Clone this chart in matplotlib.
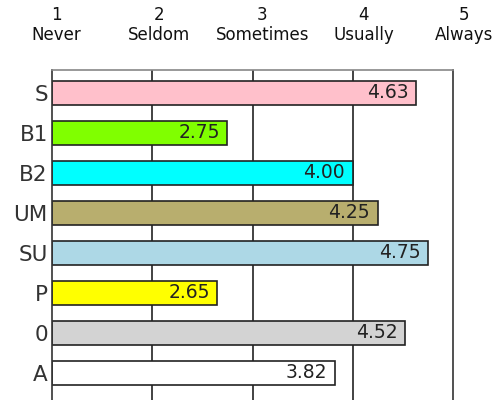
import matplotlib
matplotlib.use("Agg")
import matplotlib.pyplot as plt
from matplotlib.transforms import ScaledTranslation

categories = ["S", "B1", "B2", "UM", "SU", "P", "0", "A"]
values = [4.63, 2.75, 4.00, 4.25, 4.75, 2.65, 4.52, 3.82]
colors = ["#FFC0CB", "#80FF00", "#00FFFF", "#B8AE6E", "#ADD8E6", "#FFFF00", "#D3D3D3", "#FFFFFF"]
scale_ticks = [1, 2, 3, 4, 5]
scale_labels = ["1\nNever", "2\nSeldom", "3\nSometimes", "4\nUsually", "5\nAlways"]
label_shift_px = [4, 7, 10, 11, 11]

plt.rcParams['font.family'] = ['DejaVu Sans']

fig = plt.figure(figsize=(4.95, 4.0), dpi=100)
W, H = 495, 400
left, right, top, bottom = 52, 453, 70, 415
ax = fig.add_axes([left / W, (H - bottom) / H, (right - left) / W, (bottom - top) / H])

ypos = list(range(len(categories)))
ax.set_xlim(1, 5)
ax.set_ylim(8.06, -0.5625)

for x in [2, 3, 4]:
    ax.axvline(x, color="#222222", lw=1.2, zorder=1)

ax.barh(ypos, [v - 1 for v in values], left=1, height=0.6, color=colors,
        edgecolor="#222222", linewidth=1.2, zorder=2)

for y, v in zip(ypos, values):
    ax.annotate(f"{v:.2f}", xy=(v, y), xytext=(-5.5, 0), textcoords="offset points",
                ha="right", va="center", fontsize=13.5, color="#222222", zorder=3)

ax.set_yticks(ypos)
ax.set_yticklabels(categories, fontsize=15.5, color="#333333")
ax.tick_params(axis="y", length=0, pad=3)

ax.xaxis.tick_top()
ax.set_xticks(scale_ticks)
ax.set_xticklabels(scale_labels, fontsize=12, color="#111111", linespacing=1.15)
ax.tick_params(axis="x", length=0, pad=19)
for lbl, dx in zip(ax.get_xticklabels(), label_shift_px):
    lbl.set_transform(lbl.get_transform() + ScaledTranslation(dx / 100, 0, fig.dpi_scale_trans))

for s in ["left", "right", "top"]:
    ax.spines[s].set_color("#333333")
    ax.spines[s].set_linewidth(1.2)
ax.spines["top"].set_color("#888888")
ax.spines["bottom"].set_visible(False)

fig.savefig("out.png", dpi=100)
